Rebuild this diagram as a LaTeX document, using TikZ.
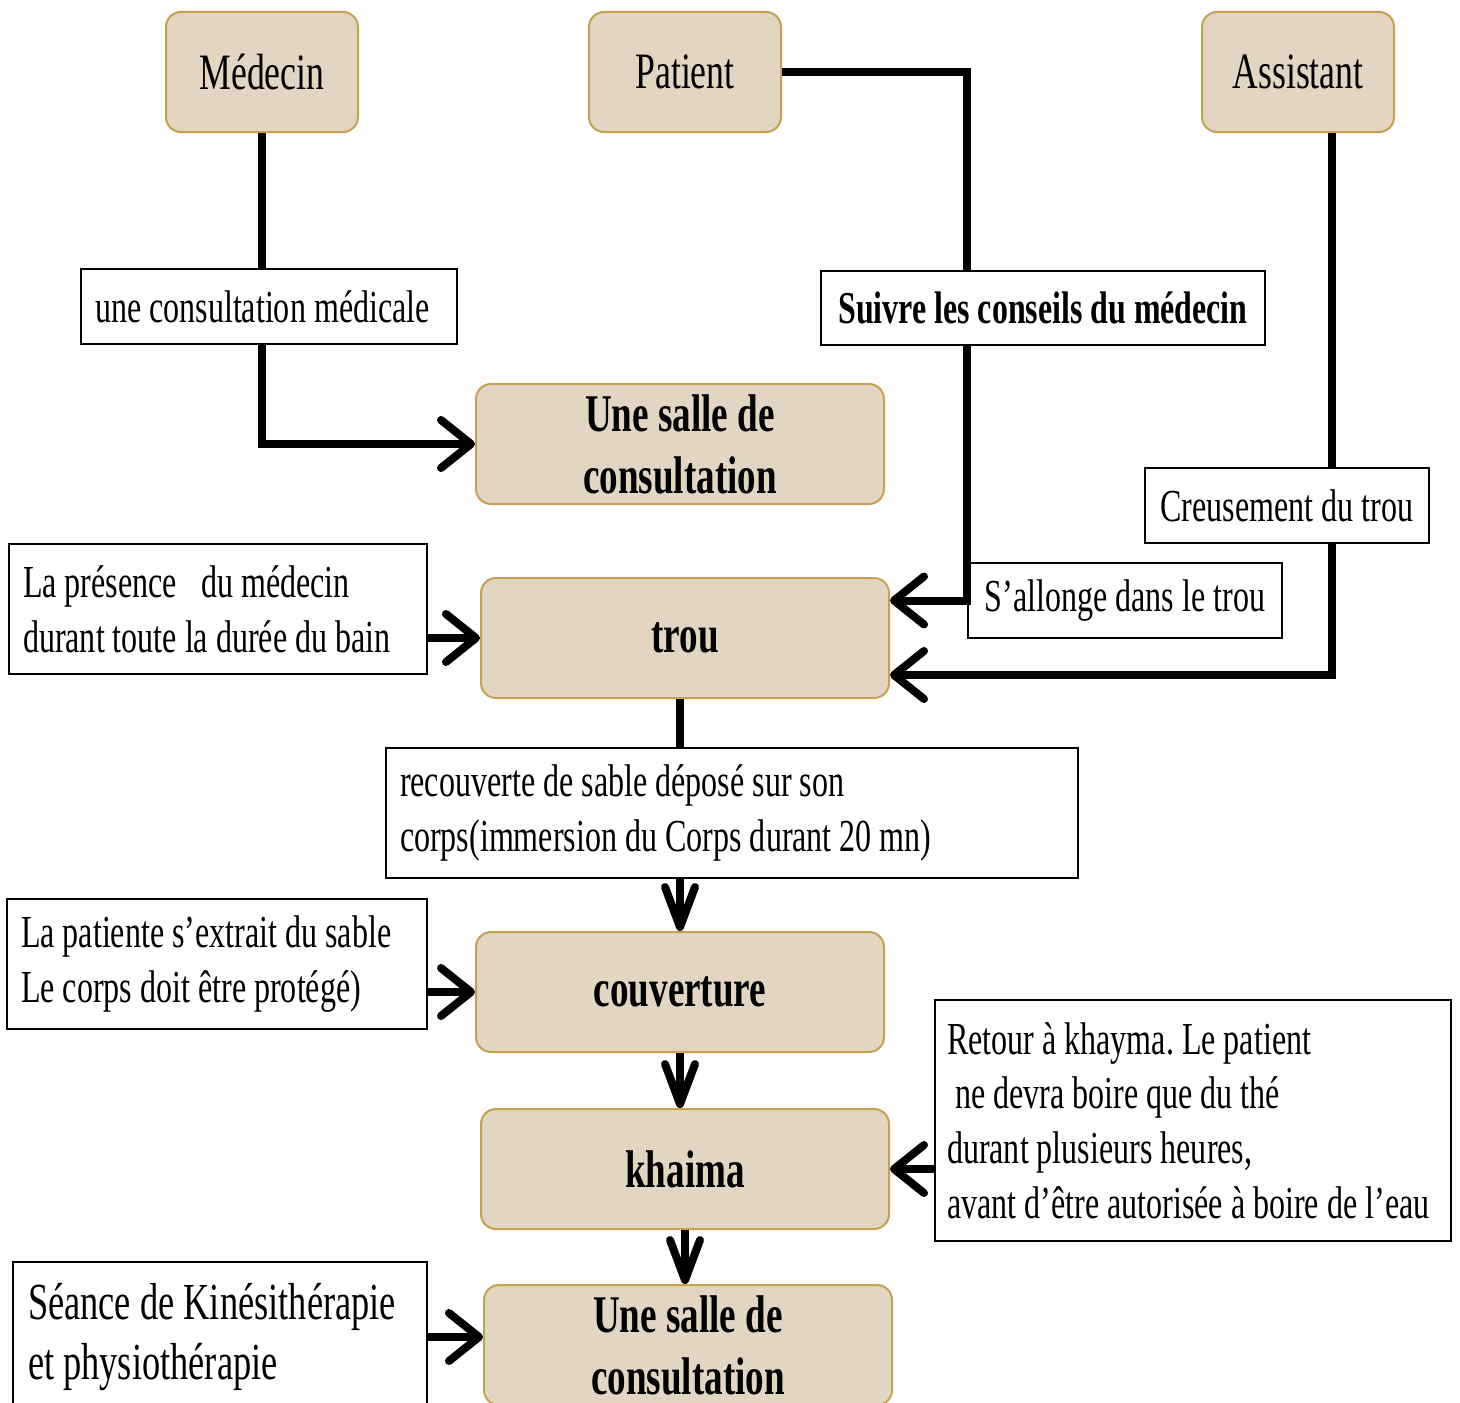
\documentclass[tikz,border=0pt]{standalone}
\usepackage{fontspec}
\setmainfont[FakeStretch=0.7]{Liberation Serif}
\usetikzlibrary{arrows.meta,positioning}
\definecolor{sand}{RGB}{226,213,194}
\definecolor{ochre}{RGB}{200,160,82}
\frenchspacing
\tikzset{
 actor/.style={rounded corners=7.5pt, draw=ochre, fill=sand, line width=1pt,
  minimum width=96pt, minimum height=60pt, font=\fontsize{25.5}{30}\selectfont},
 stage/.style={actor, minimum width=204pt, align=center,
  font=\bfseries\fontsize{26.5}{31}\selectfont},
 note/.style={draw, line width=1pt, fill=white, inner xsep=7pt, inner ysep=4pt,
  align=flush left, font=\fontsize{22.9}{27.4}\selectfont},
 link/.style={line width=4pt},
 flow/.style={link, -{Straight Barb[length=15pt,width=24pt,round]}},
 flowdown/.style={link, -{Straight Barb[length=20pt,width=15pt,round]}}
}

\begin{document}
\begin{tikzpicture}[x=0.5pt,y=-0.5pt]

 % frame of the page, the last box runs off the bottom
 \useasboundingbox (0,0) rectangle (1460,1402);
 \clip (0,0) rectangle (1460,1402);

 % the three people on top
 \node[actor] (Medecin) at (262,72) {Médecin};
 \node[actor,
  right of=Medecin,  % next to the doctor
  node distance=211.5pt,
  anchor=center] (Patient) {Patient};
 \node[actor,
  right of=Patient,
  node distance=306.5pt,
  anchor=center] (Assistant) {Assistant};

 % main column of steps
 \node[stage] (SalleA) at (680,444) {Une salle de\\consultation};
 \node[stage,
  below of=SalleA,
  node distance=97pt,
  xshift=2.5pt,
  anchor=center] (Trou) {trou};
 \node[stage,
  below of=Trou,
  node distance=177pt,
  xshift=-2.5pt,
  anchor=center] (Couv) {couverture};
 \node[stage,
  below of=Couv,
  node distance=88.5pt,
  xshift=2.5pt,
  anchor=center] (Khaima) {khaima};
 \node[stage,
  below of=Khaima,
  node distance=88pt,
  xshift=1.5pt,
  anchor=center] (SalleB) {Une salle de\\consultation};

 % the notes in white boxes
 \node[note, text width=174pt, minimum height=37.5pt] (Consult) at (269,306.5)
  {une consultation médicale};
 \node[note, minimum width=222pt, minimum height=37pt, align=center,
  font=\bfseries\fontsize{22.8}{27.4}\selectfont] (Conseils) at (1043,308)
  {Suivre les conseils du médecin};
 \node[note, minimum width=142pt, minimum height=37.5pt, align=center] (Creuse) at (1287,505.5)
  {Creusement\ du trou};
 \node[note, minimum width=157pt, minimum height=37.5pt, align=center] (Allonge) at (1125,600.5)
  {S’allonge dans le trou};
 \node[note, text width=195pt, minimum height=65pt] (Presence) at (218,609)
  {La présence\ \ \ du médecin\\durant toute la durée du bain};
 \node[note, text width=332pt, minimum height=65pt] (Recouv) at (732,813)
  {recouverte\ de sable déposé\ sur son\\corps(immersion\ du Corps durant 20\,mn)};
 \node[note, text width=196pt, minimum height=65pt] (Extrait) at (217,964)
  {La patiente\ s’extrait du sable\\Le corps\ doit être protégé)};
 \node[note, text width=246pt, inner xsep=6pt, minimum height=120.5pt] (Retour) at (1193,1120.5)
  {Retour à khayma. Le patient\\\ ne devra boire que du thé\\durant plusieurs heures,\\avant d’être autorisée à boire de l’eau};
 \node[note, text width=192pt, inner xsep=7.5pt, minimum height=75pt,
  font=\fontsize{26}{30}\selectfont] (Seance) at (220,1337)
  {Séance de Kinésithérapie\\et physiothérapie};

 % where the assistant's line turns
 \coordinate (Dig) at (1332,675);

 % connectors
 \draw[link] (Medecin.south) -- (Medecin.south |- Consult.north);
 \draw[flow] (Consult.south -| Medecin.south) |- (SalleA.west);
 \draw[link] (Patient.east) -| (Allonge.west |- Conseils.north);
 \draw[flow] (Allonge.west |- Conseils.south) -- (Allonge.west) -- (Allonge.west -| Trou.east);
 \draw[link] (Assistant.south -| Dig) -- (Creuse.north -| Dig);
 \draw[flow] (Creuse.south -| Dig) -- (Dig) -- (Dig -| Trou.east);
 \draw[flow] (Presence.east |- Trou.west) -- (Trou.west);
 \draw[link] (Trou.south -| Couv.north) -- (Recouv.north -| Couv.north);
 \draw[flowdown] (Recouv.south -| Couv.north) -- (Couv.north);
 \draw[flow] (Extrait.east |- Couv.west) -- (Couv.west);
 \draw[flowdown] (Couv.south) -- (Couv.south |- Khaima.north);
 \draw[flow] (Retour.west |- Khaima.east) -- (Khaima.east);
 \draw[flowdown] (Khaima.south) -- (Khaima.south |- SalleB.north);
 \draw[flow] (Seance.east) -- (Seance.east -| SalleB.west);

\end{tikzpicture}
\end{document}
